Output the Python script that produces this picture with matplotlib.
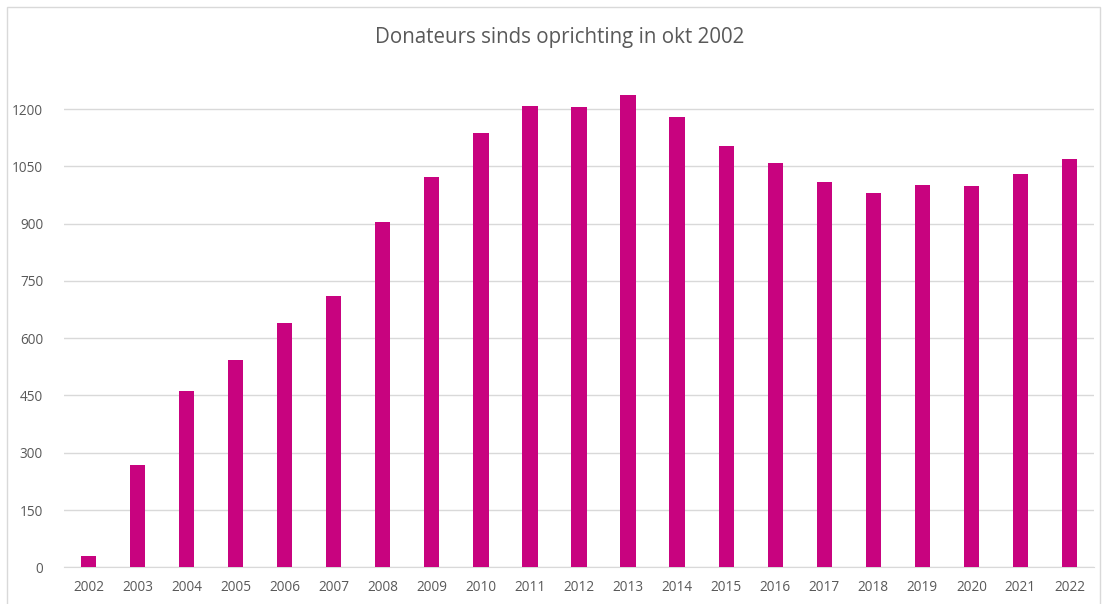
import matplotlib.pyplot as plt
from matplotlib.patches import Rectangle

years = [str(y) for y in range(2002, 2023)]
donateurs = [30, 269, 462, 544, 640, 711, 903, 1023, 1137, 1208, 1204,
             1237, 1179, 1103, 1058, 1009, 981, 1000, 998, 1030, 1068]
yticks = [0, 150, 300, 450, 600, 750, 900, 1050, 1200]

plt.rcParams['font.family'] = ['Open Sans', 'DejaVu Sans']

W, H = 1103, 604
fig = plt.figure(figsize=(W / 100, H / 100), dpi=100)

# light grey chart border
fig.patches.append(Rectangle((7 / W, -0.01), (1100 - 7) / W, 1 - 7 / H + 0.01,
                             transform=fig.transFigure, fill=False,
                             edgecolor='#d9d9d9', linewidth=1))

ymax = 1300
bottom_px, per_unit = 567.3, (567.3 - 109) / 1200
top_px = bottom_px - ymax * per_unit
ax = fig.add_axes([64 / W, (H - bottom_px) / H, (1094 - 64) / W, (bottom_px - top_px) / H])

x = range(len(years))
ax.bar(x, donateurs, width=0.31, color='#C8037F', zorder=3)

ax.set_xlim(-0.5, len(years) - 0.5)
ax.set_ylim(0, ymax)
ax.set_yticks(yticks)
ax.set_yticklabels([str(v) for v in yticks])
ax.set_xticks(list(x))
ax.set_xticklabels(years)
ax.grid(axis='y', color='#d9d9d9', linewidth=1, zorder=0)
ax.tick_params(length=0, labelsize=9.8, labelcolor='#595959')
ax.tick_params(axis='y', pad=15)
ax.tick_params(axis='x', pad=9)
for s in ['top', 'right', 'left']:
    ax.spines[s].set_visible(False)
ax.spines['bottom'].set_color('#d9d9d9')

fig.text(560 / W, 1 - 37 / H, 'Donateurs sinds oprichting in okt 2002',
         ha='center', va='center', fontsize=14.8, color='#595959')

fig.savefig('out.png', dpi=100)
